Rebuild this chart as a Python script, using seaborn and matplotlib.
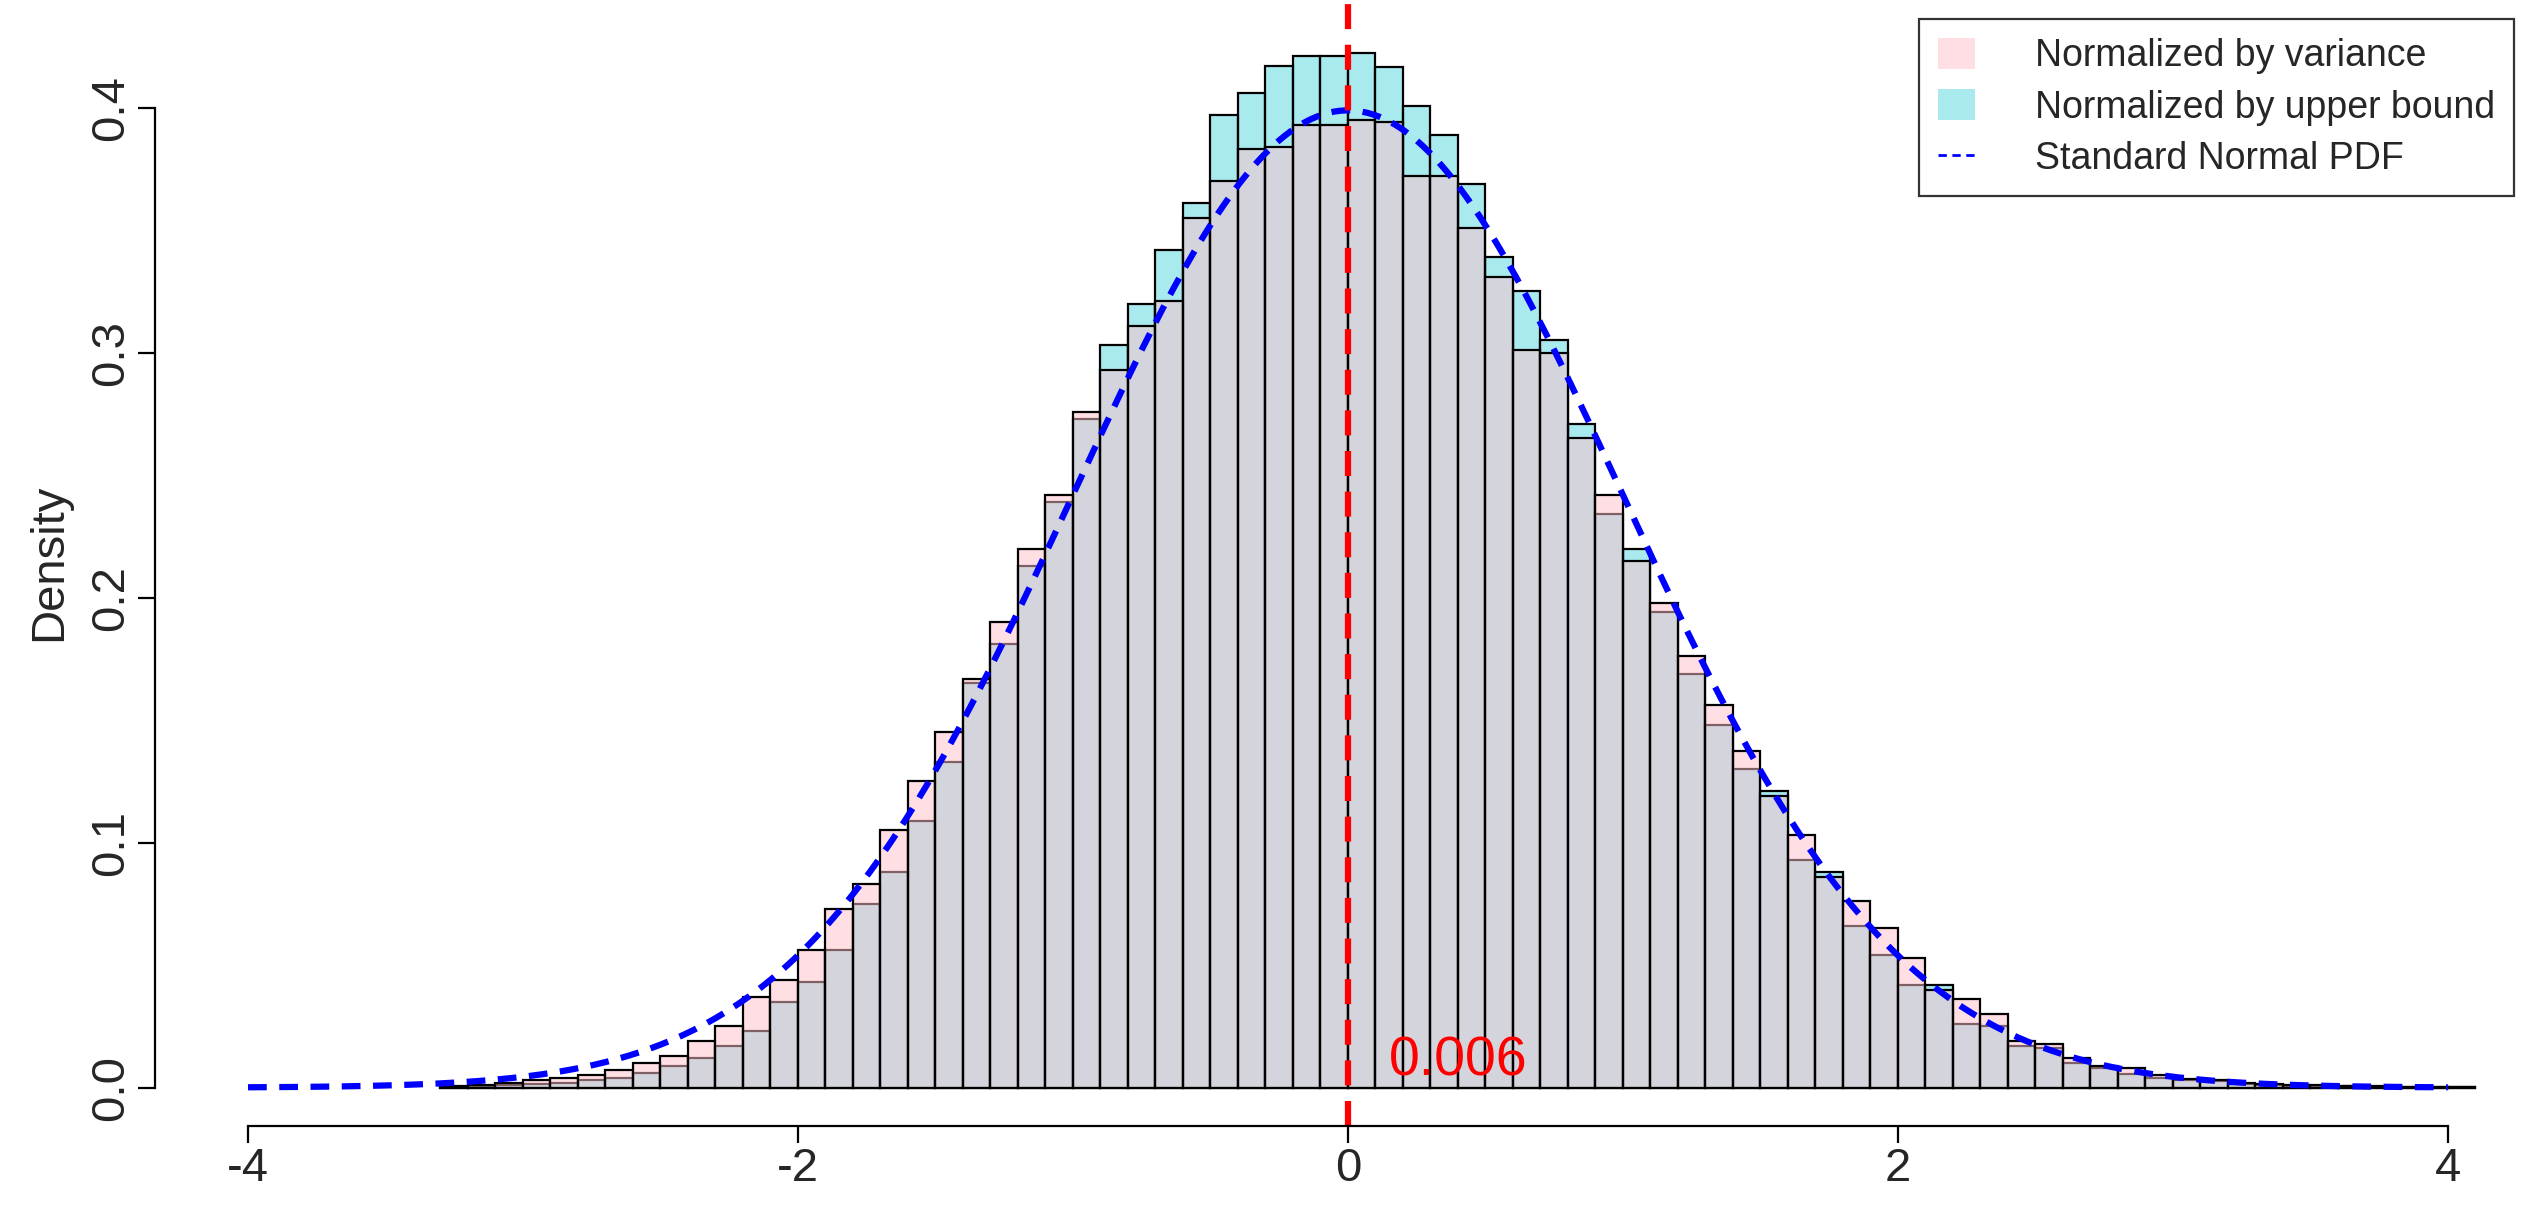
import numpy as np
import pandas as pd
import matplotlib
matplotlib.use("Agg")
import matplotlib.pyplot as plt
import seaborn as sns

sns.set_style("white")
plt.rcParams['font.family'] = ['Liberation Sans', 'DejaVu Sans']

edges = [round(-3.3 + 0.1 * i, 2) for i in range(75)]
centers = [round(e + 0.05, 3) for e in edges[:-1]]

var_vals = [0.0006, 0.001, 0.002, 0.003, 0.004, 0.005, 0.007, 0.010, 0.013, 0.019,
            0.025, 0.037, 0.044, 0.056, 0.073, 0.083, 0.105, 0.125, 0.145, 0.167,
            0.190, 0.220, 0.242, 0.276, 0.293, 0.311, 0.321, 0.355, 0.370, 0.383,
            0.384, 0.393, 0.393, 0.395, 0.394, 0.372, 0.372, 0.351, 0.331, 0.301,
            0.300, 0.265, 0.242, 0.215, 0.198, 0.176, 0.156, 0.1375, 0.119, 0.103,
            0.086, 0.076, 0.065, 0.053, 0.040, 0.036, 0.030, 0.019, 0.018, 0.012,
            0.009, 0.008, 0.005, 0.0035, 0.003, 0.002, 0.0015, 0.0012, 0.001, 0.0006,
            0.0005, 0.0004, 0.0004, 0.0003]
ub_vals = [0.0003, 0.0005, 0.001, 0.0015, 0.002, 0.003, 0.004, 0.006, 0.009, 0.012,
           0.017, 0.023, 0.035, 0.043, 0.056, 0.075, 0.088, 0.109, 0.133, 0.165,
           0.181, 0.213, 0.239, 0.273, 0.303, 0.320, 0.342, 0.361, 0.397, 0.406,
           0.417, 0.421, 0.421, 0.4225, 0.4165, 0.4006, 0.389, 0.369, 0.339, 0.325,
           0.305, 0.271, 0.234, 0.220, 0.194, 0.169, 0.148, 0.130, 0.121, 0.093,
           0.088, 0.066, 0.054, 0.042, 0.042, 0.026, 0.025, 0.017, 0.016, 0.010,
           0.008, 0.0056, 0.004, 0.003, 0.0025, 0.0015, 0.001, 0.0008, 0.0006, 0.0005,
           0.0004, 0.0003, 0.0003, 0.0002]

legend_labels = ["Normalized by variance", "Normalized by upper bound", "Standard Normal PDF"]
mean_label = "0.006"

df = pd.DataFrame({"c": centers, "var": var_vals, "ub": ub_vals})

fig = plt.figure(figsize=(25.33, 12.09), dpi=100)
ax = fig.add_axes([0.061, 0.069, 0.939, 0.931])

cyan = (85/255, 215/255, 225/255)
sns.histplot(data=df, x="c", weights="ub", bins=edges, stat="count", ax=ax,
             color=cyan, alpha=0.5, edgecolor="black", linewidth=1.6)
sns.histplot(data=df, x="c", weights="var", bins=edges, stat="count", ax=ax,
             color="pink", alpha=0.5, edgecolor="black", linewidth=1.6)

xs = np.linspace(-4, 4, 400)
pdf = np.exp(-xs**2 / 2) / np.sqrt(2 * np.pi)
ax.plot(xs, pdf, color="blue", linestyle=(0, (3, 2)), linewidth=4.5)

ax.axvline(0, color="red", linestyle=(0, (4, 2.5)), linewidth=4.5)
ax.text(0.15, 0.0, mean_label, color="red", fontsize=40, ha="left", va="bottom")

ax.set_xlim(-4.34, 4.31)
ax.set_ylim(-0.0155, 0.444)
ax.set_xticks([-4, -2, 0, 2, 4])
ax.set_xticklabels(["-4", "-2", "0", "2", "4"])
ax.set_yticks([0.0, 0.1, 0.2, 0.3, 0.4])
ax.set_yticklabels(["0.0", "0.1", "0.2", "0.3", "0.4"], rotation=90, va="center")
ax.tick_params(axis="both", labelsize=34, length=12, width=1.6, direction="out",
               bottom=True, left=True, color="black")
for s in ["top", "right"]:
    ax.spines[s].set_visible(False)
ax.spines["left"].set_bounds(0, 0.4)
ax.spines["bottom"].set_bounds(-4, 4)
ax.spines["bottom"].set_position(("data", -0.0155))
for s in ["left", "bottom"]:
    ax.spines[s].set_color("black")
    ax.spines[s].set_linewidth(1.6)
ax.set_ylabel("Density", fontsize=34)
ax.set_xlabel("")
ax.yaxis.set_label_coords(-0.035, 0.5)

from matplotlib.patches import Patch
from matplotlib.lines import Line2D
handles = [Patch(facecolor="pink", alpha=0.5, edgecolor="none"),
           Patch(facecolor=cyan, alpha=0.5, edgecolor="none"),
           Line2D([0], [0], color="blue", linestyle=(0, (3, 2)), linewidth=2)]
leg = ax.legend(handles, legend_labels, loc="upper right", fontsize=27, frameon=True,
                fancybox=False, edgecolor="black", handlelength=1.0, handleheight=0.9,
                borderpad=0.5, labelspacing=0.4, handletextpad=1.6,
                bbox_to_anchor=(1.0, 1.0))
leg.get_frame().set_linewidth(1.6)

fig.savefig("out.png", dpi=100)
